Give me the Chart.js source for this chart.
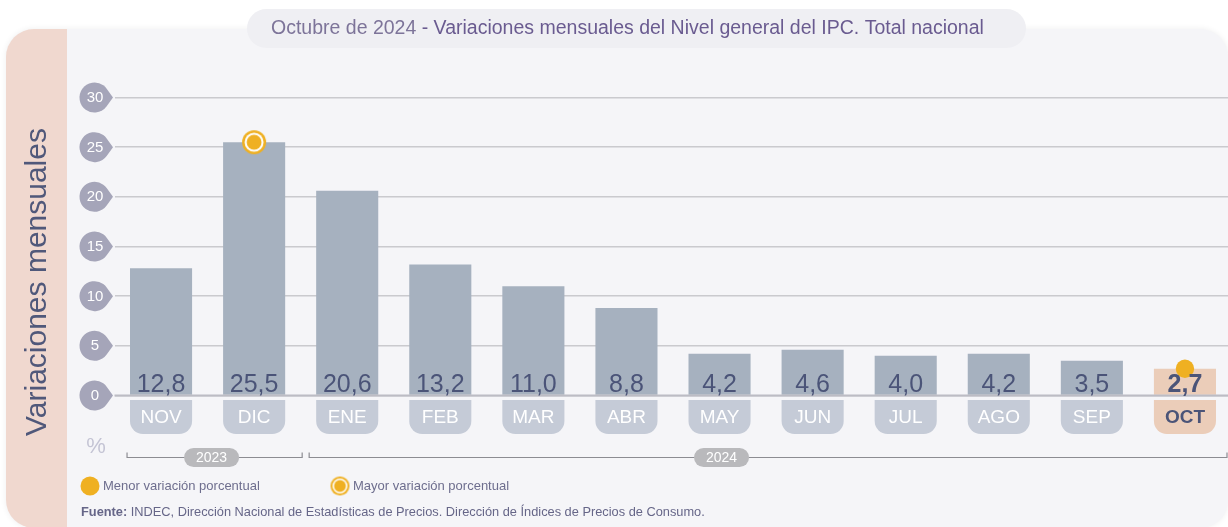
<!DOCTYPE html>
<html><head><meta charset="utf-8">
<script src="https://cdn.jsdelivr.net/npm/chart.js@4"></script>
<style>
html,body{margin:0;padding:0;background:#fff;overflow:hidden}
#wrap{position:relative;width:1228px;height:527px;overflow:hidden}
canvas{display:block}
</style></head><body>
<div id="wrap"><canvas id="c" width="1240" height="527" style="width:1240px;height:527px"></canvas></div>
<script>
// ---- data ----
const categories = ['NOV','DIC','ENE','FEB','MAR','ABR','MAY','JUN','JUL','AGO','SEP','OCT'];
const values = [12.8, 25.5, 20.6, 13.2, 11.0, 8.8, 4.2, 4.6, 4.0, 4.2, 3.5, 2.7];
const valueLabels = ['12,8','25,5','20,6','13,2','11,0','8,8','4,2','4,6','4,0','4,2','3,5','2,7'];
const yTicks = [0, 5, 10, 15, 20, 25, 30];
const yearLabels = ['2023', '2024'];
const yearStartIndex = [0, 2];
const highlightIndex = 11;
const titleLight = 'Octubre de 2024';
const titleMain = ' - Variaciones mensuales del Nivel general del IPC. Total nacional';
const yTitle = 'Variaciones mensuales';
const legendMenor = 'Menor variación porcentual';
const legendMayor = 'Mayor variación porcentual';
const sourceBold = 'Fuente:';
const sourceText = ' INDEC, Dirección Nacional de Estadísticas de Precios. Dirección de Índices de Precios de Consumo.';

const maxIdx = values.indexOf(Math.max(...values));
const minIdx = values.indexOf(Math.min(...values));
const mayorData = values.map((v,i)=> i===maxIdx ? v : null);
const menorData = values.map((v,i)=> i===minIdx ? v : null);

// ---- style ----
const FONT = '"Liberation Sans", Arial, Helvetica, sans-serif';
const ORANGE = '#efb022';
const BAR = '#a6b1bf';
const PEACH = '#ebcdb9';
const PILL = '#c5cbd7';
const DARK = '#4b5478';

function ringCanvas(R){
  const s = Math.ceil(R*2+2), c = document.createElement('canvas');
  c.width = s; c.height = s;
  const x = c.getContext('2d'), m = s/2;
  x.fillStyle = ORANGE; x.beginPath(); x.arc(m,m,R,0,Math.PI*2); x.fill();
  x.fillStyle = '#ffffff'; x.beginPath(); x.arc(m,m,R*0.79,0,Math.PI*2); x.fill();
  x.fillStyle = ORANGE; x.beginPath(); x.arc(m,m,R*0.62,0,Math.PI*2); x.fill();
  return c;
}
const ringImg = ringCanvas(12);

function rr(ctx,x,y,w,h,r){
  ctx.beginPath();
  ctx.roundRect(x,y,w,h,r);
}

const decor = {
  id:'decor',
  beforeDraw(chart){
    const ctx = chart.ctx;
    ctx.save();
    ctx.fillStyle = '#ffffff';
    ctx.fillRect(0,0,chart.width,chart.height);
    // panel
    ctx.save();
    ctx.shadowColor = 'rgba(0,0,0,0.07)';
    ctx.shadowBlur = 6;
    ctx.fillStyle = '#f5f5f8';
    rr(ctx,6,29,1222,499,28); ctx.fill();
    ctx.restore();
    ctx.save();
    rr(ctx,6,29,1222,499,28); ctx.clip();
    ctx.fillStyle = '#f0d8cf';
    ctx.fillRect(6,29,61,500);
    ctx.restore();
    // title pill
    ctx.fillStyle = '#efeff3';
    rr(ctx,247,9,779,39,19.5); ctx.fill();
    ctx.font = '19.5px ' + FONT;
    ctx.textBaseline = 'middle';
    ctx.textAlign = 'left';
    ctx.fillStyle = '#7d7499';
    ctx.fillText(titleLight, 271, 29);
    const w = ctx.measureText(titleLight).width;
    ctx.fillStyle = '#6a5b90';
    ctx.fillText(titleMain, 271 + w, 29);
    // vertical title
    ctx.save();
    ctx.translate(38, 282);
    ctx.rotate(-Math.PI/2);
    ctx.font = '30px ' + FONT;
    ctx.fillStyle = '#50587a';
    ctx.textAlign = 'center';
    ctx.textBaseline = 'middle';
    ctx.fillText(yTitle, 0, 0);
    ctx.restore();
    // percent
    ctx.font = '22px ' + FONT;
    ctx.fillStyle = '#c4c4d4';
    ctx.textAlign = 'center';
    ctx.textBaseline = 'middle';
    ctx.fillText('%', 96, 447);
    ctx.restore();
  },
  afterDatasetsDraw(chart){
    const ctx = chart.ctx;
    const ys = chart.scales.y;
    const y0 = ys.getPixelForValue(0);
    const ca = chart.chartArea;
    ctx.save();
    // zero line
    ctx.strokeStyle = '#bcbcc4';
    ctx.lineWidth = 2;
    ctx.beginPath(); ctx.moveTo(ca.left, y0); ctx.lineTo(ca.right, y0); ctx.stroke();
    const meta = chart.getDatasetMeta(2);
    categories.forEach((cat,i)=>{
      const bar = meta.data[i];
      const cx = bar.x, half = bar.width/2;
      const hl = i === highlightIndex;
      // value labels
      ctx.font = (hl ? 'bold ' : '') + '25px ' + FONT;
      ctx.fillStyle = DARK;
      ctx.textAlign = 'center';
      ctx.textBaseline = 'alphabetic';
      ctx.fillText(valueLabels[i], cx, y0 - 3.5);
      // month pill
      ctx.fillStyle = hl ? PEACH : PILL;
      rr(ctx, cx-half, y0+4.5, half*2, 34, [0,0,13,13]); ctx.fill();
      ctx.font = (hl ? 'bold ' : '') + '19px ' + FONT;
      ctx.fillStyle = hl ? DARK : '#ffffff';
      ctx.fillText(cat, cx, y0 + 27);
    });
    ctx.restore();
  },
  afterDraw(chart){
    const ctx = chart.ctx;
    const xs = chart.scales.x, ys = chart.scales.y;
    ctx.save();
    // y badges
    yTicks.forEach(t=>{
      const y = ys.getPixelForValue(t);
      const cx = 94.5, r = 15, tip = 113;
      const a = Math.acos(r/(tip-cx));
      ctx.fillStyle = '#a5a5b9';
      ctx.beginPath();
      ctx.moveTo(tip, y);
      ctx.arc(cx, y, r, a, Math.PI*2 - a);
      ctx.closePath();
      ctx.fill();
      ctx.font = '15px ' + FONT;
      ctx.fillStyle = '#ffffff';
      ctx.textAlign = 'center';
      ctx.textBaseline = 'middle';
      ctx.fillText(String(t), cx+0.5, y+0.5);
    });
    // year brackets
    const by = 457.5;
    const p = i => xs.getPixelForValue(i);
    const mid = (p(yearStartIndex[1]-1) + p(yearStartIndex[1]))/2;
    const segs = [
      [p(0) - 34, mid + 1.5],
      [mid + 8.5, 1227]
    ];
    ctx.strokeStyle = '#8c8c92';
    ctx.lineWidth = 1.2;
    segs.forEach(s=>{
      ctx.beginPath();
      ctx.moveTo(s[0], by-5); ctx.lineTo(s[0], by); ctx.lineTo(s[1], by); ctx.lineTo(s[1], by-5);
      ctx.stroke();
    });
    const pillCenters = [(p(0)+p(1))/2 + 4, p(6) + 2];
    yearLabels.forEach((lab,k)=>{
      const cx = pillCenters[k];
      ctx.fillStyle = '#b9b9bc';
      rr(ctx, cx-27.5, 448, 55, 19, 9.5); ctx.fill();
      ctx.font = '14px ' + FONT;
      ctx.fillStyle = '#ffffff';
      ctx.textAlign = 'center';
      ctx.textBaseline = 'middle';
      ctx.fillText(lab, cx, 458);
    });
    // legend
    ctx.fillStyle = ORANGE;
    ctx.beginPath(); ctx.arc(90, 486, 9.5, 0, Math.PI*2); ctx.fill();
    ctx.drawImage(ringCanvas(9.5), 340-10.5, 486-10.5);
    ctx.font = '13px ' + FONT;
    ctx.fillStyle = '#6e6e8e';
    ctx.textAlign = 'left';
    ctx.textBaseline = 'middle';
    ctx.fillText(legendMenor, 103, 486.5);
    ctx.fillText(legendMayor, 353, 486.5);
    // source
    ctx.font = 'bold 12.8px ' + FONT;
    ctx.fillStyle = '#666688';
    ctx.fillText(sourceBold, 81, 512);
    const sw = ctx.measureText(sourceBold).width;
    ctx.font = '12.8px ' + FONT;
    ctx.fillText(sourceText, 81 + sw, 512);
    ctx.restore();
  }
};

new Chart(document.getElementById('c'), {
  type: 'bar',
  data: {
    labels: categories,
    datasets: [
      {
        type: 'line', label: legendMayor, data: mayorData, showLine: false,
        pointStyle: ringImg, pointRadius: 12, order: 1, clip: false
      },
      {
        type: 'line', label: legendMenor, data: menorData, showLine: false,
        pointStyle: 'circle', pointRadius: 9.2, pointBackgroundColor: ORANGE,
        pointBorderWidth: 0, order: 1, clip: false
      },
      {
        type: 'bar', label: 'IPC', data: values,
        backgroundColor: values.map((v,i)=> i===highlightIndex ? PEACH : BAR),
        barPercentage: 0.667, categoryPercentage: 1, order: 2
      }
    ]
  },
  options: {
    responsive: false,
    animation: false,
    events: [],
    devicePixelRatio: 1,
    layout: { autoPadding: false, padding: { left: 114.5, right: 8.5, top: 97.5, bottom: 131.5 } },
    plugins: { legend: { display: false }, tooltip: { enabled: false } },
    scales: {
      x: { display: false },
      y: {
        min: 0, max: 30,
        ticks: { display: false, stepSize: 5 },
        border: { display: false },
        grid: { drawTicks: false, color: '#cacace', lineWidth: 1.5 }
      }
    }
  },
  plugins: [decor]
});
</script>
</body></html>
